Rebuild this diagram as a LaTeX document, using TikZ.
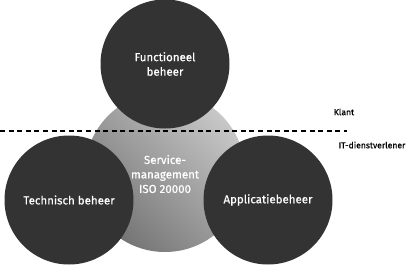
\documentclass[tikz,border=0pt]{standalone}
\usepackage{fontspec}
\setmainfont{Fira Sans}
\newfontfamily\kreisfont{Fira Sans}[FakeBold=0.6]
\usepackage{xcolor}
\usepackage{tikz}
\usetikzlibrary{positioning}
\definecolor{kern}{HTML}{333333}
\definecolor{lichtgrijs}{HTML}{C8C8C8}
\definecolor{donkergrijs}{HTML}{747474}

\begin{document}
\begin{tikzpicture}[x=1pt,y=1pt,
    darkcirc/.style={circle,fill=kern,inner sep=0pt,minimum size=129pt,
      text=white,align=center,font=\kreisfont\fontsize{11.5}{14.5}\selectfont},
    greycirc/.style={circle,inner sep=0pt,minimum size=160pt,
      left color=lichtgrijs,right color=donkergrijs,shading angle=-45},
    sidelabel/.style={font=\kreisfont\fontsize{8.6}{10}\selectfont,text=black}]
        \useasboundingbox (0,0) rectangle (409,266);
        \node[greycirc] (service) at (165,94) {};
        \node[text=white,align=center,font=\kreisfont\fontsize{11.5}{14.5}\selectfont] (servicetxt) at (165,92) {Service-\\management\\ISO 20000};
        \draw[line width=2pt,dash pattern=on 5pt off 3.6pt] (0,135) coordinate (lijnbegin) -- (347,135) coordinate (lijneind);
        \node[darkcirc] (functioneel) at (165,202) {Functioneel\\beheer};
        \node[darkcirc] (technisch) at (69,66) {Technisch beheer};
        \node[darkcirc] (applicatie) at (268,66) {Applicatiebeheer};
        \node[sidelabel] (klant) at (344,154) {Klant};
        \node[sidelabel] (itdienst) at (372,121) {IT-dienstverlener};
      \end{tikzpicture}
\end{document}
